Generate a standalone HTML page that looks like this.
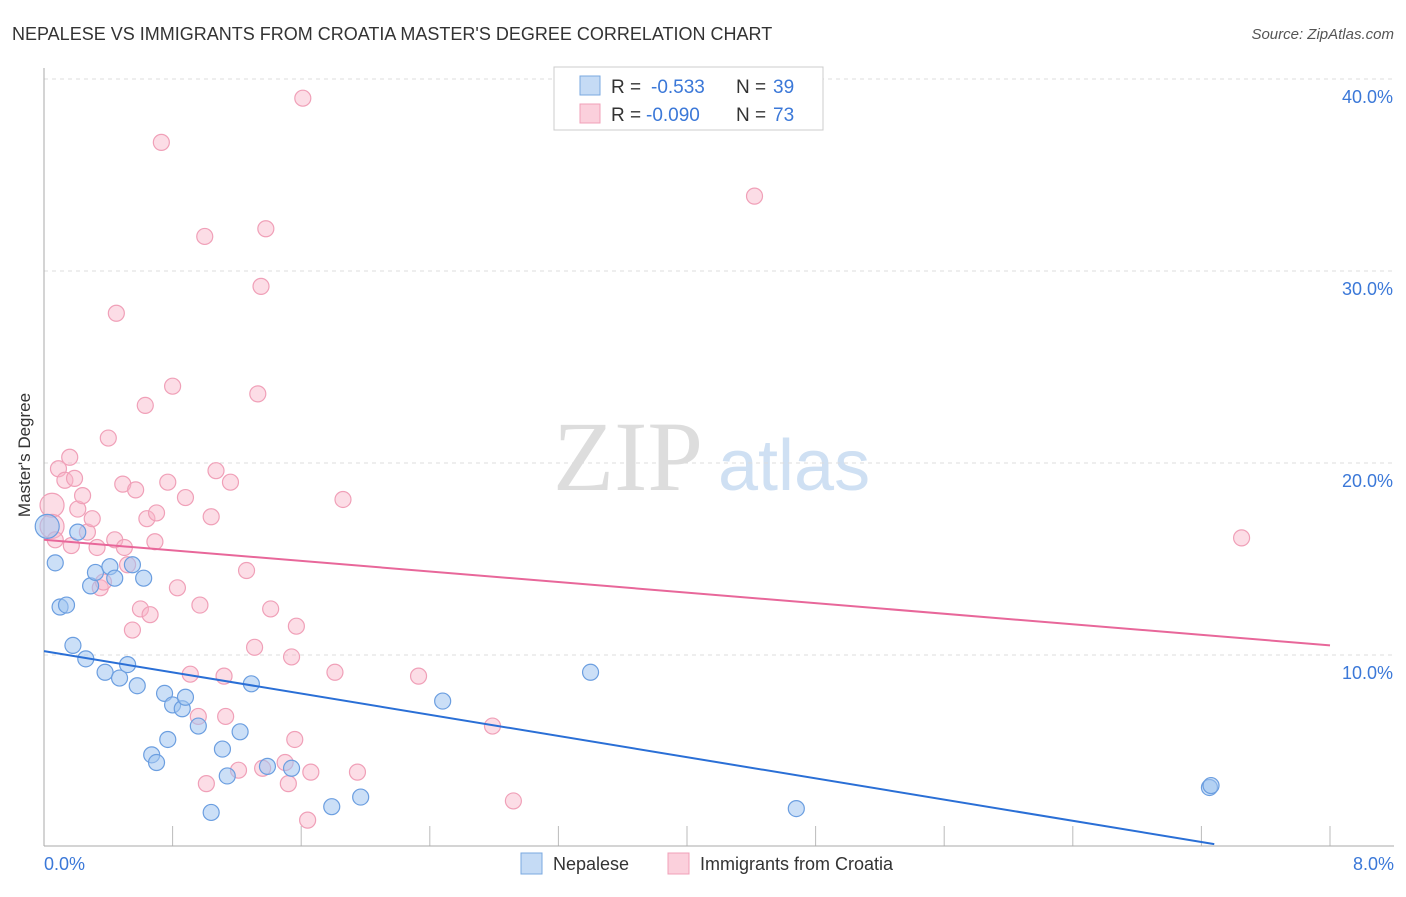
<!DOCTYPE html>
<html><head><meta charset="utf-8"><style>
body{margin:0;background:#fff;font-family:"Liberation Sans",sans-serif}
</style></head><body>
<svg width="1406" height="892" xmlns="http://www.w3.org/2000/svg">
<text x="12" y="40" font-size="18" fill="#333">NEPALESE VS IMMIGRANTS FROM CROATIA MASTER'S DEGREE CORRELATION CHART</text>
<text x="1394" y="39" font-size="15" fill="#555" text-anchor="end" font-style="italic">Source: ZipAtlas.com</text>
<text x="553" y="490" font-size="100" fill="#ddd" font-family="Liberation Serif">ZIP</text>
<text x="718" y="490" font-size="72" fill="#cfe0f3">atlas</text>
<g id="grid"></g>
<line x1="44" y1="68" x2="44" y2="846" stroke="#aaa"/>
<line x1="44" y1="846" x2="1394" y2="846" stroke="#aaa"/>
<text x="30" y="455" font-size="17" fill="#333" transform="rotate(-90 30 455)" text-anchor="middle">Master's Degree</text>
<text x="44" y="870" font-size="18" fill="#3b78d8">0.0%</text>
<text x="1394" y="870" font-size="18" fill="#3b78d8" text-anchor="end">8.0%</text>
<g id="pts"></g>
<g id="lines"></g>
<g>
<rect x="554" y="67" width="269" height="63" fill="#fff" stroke="#ccc"/>
<rect x="580" y="76" width="20" height="19" fill="#c5dbf5" stroke="#7aa8e0"/>
<rect x="580" y="104" width="20" height="19" fill="#fbd0dc" stroke="#f0a0b8"/>
<text x="611" y="93" font-size="19" fill="#333">R =</text>
<text x="651" y="93" font-size="19" fill="#3b78d8">-0.533</text>
<text x="736" y="93" font-size="19" fill="#333">N =</text>
<text x="773" y="93" font-size="19" fill="#3b78d8">39</text>
<text x="611" y="121" font-size="19" fill="#333">R =</text>
<text x="646" y="121" font-size="19" fill="#3b78d8">-0.090</text>
<text x="736" y="121" font-size="19" fill="#333">N =</text>
<text x="773" y="121" font-size="19" fill="#3b78d8">73</text>
</g>
<g>
<rect x="521" y="853" width="21" height="21" fill="#c5dbf5" stroke="#7aa8e0"/>
<text x="553" y="870" font-size="18" fill="#333">Nepalese</text>
<rect x="668" y="853" width="21" height="21" fill="#fbd0dc" stroke="#f0a0b8"/>
<text x="700" y="870" font-size="18" fill="#333">Immigrants from Croatia</text>
</g>
</svg>
<script>
const yTicks=[10,20,30,40];
const xTicks=[0.8,1.6,2.4,3.2,4.0,4.8,5.6,6.4,7.2,8.0];
const nepX=[0.02,0.07,0.1,0.14,0.18,0.21,0.26,0.29,0.32,0.38,0.41,0.44,0.47,0.52,0.55,0.58,0.62,0.67,0.7,0.75,0.77,0.8,0.86,0.88,0.96,1.04,1.11,1.14,1.22,1.29,1.39,1.54,1.79,1.97,2.48,3.40,4.68,7.25,7.26];
const nepY=[16.7,14.8,12.5,12.6,10.5,16.4,9.8,13.6,14.3,9.1,14.6,14.0,8.8,9.5,14.7,8.4,14.0,4.8,4.4,8.0,5.6,7.4,7.2,7.8,6.3,1.8,5.1,3.7,6.0,8.5,4.2,4.1,2.1,2.6,7.6,9.1,2.0,3.1,3.2];
const croX=[0.05,0.05,0.07,0.09,0.13,0.16,0.17,0.19,0.21,0.24,0.27,0.30,0.33,0.35,0.37,0.40,0.44,0.45,0.49,0.50,0.52,0.55,0.57,0.60,0.63,0.64,0.66,0.69,0.70,0.73,0.77,0.80,0.83,0.88,0.91,0.96,0.97,1.00,1.01,1.04,1.07,1.12,1.13,1.16,1.21,1.26,1.31,1.33,1.35,1.36,1.38,1.41,1.50,1.52,1.54,1.56,1.57,1.61,1.64,1.66,1.81,1.86,1.95,2.33,2.79,2.92,4.42,7.45];
const croY=[17.8,16.7,16.0,19.7,19.1,20.3,15.7,19.2,17.6,18.3,16.4,17.1,15.6,13.5,13.8,21.3,16.0,27.8,18.9,15.6,14.7,11.3,18.6,12.4,23.0,17.1,12.1,15.9,17.4,36.7,19.0,24.0,13.5,18.2,9.0,6.8,12.6,31.8,3.3,17.2,19.6,8.9,6.8,19.0,4.0,14.4,10.4,23.6,29.2,4.1,32.2,12.4,4.4,3.3,9.9,5.6,11.5,39.0,1.4,3.9,9.1,18.1,3.9,8.9,6.3,2.4,33.9,16.1];
const X=v=>44+v*160.75, Y=v=>847-v*19.2, NS='http://www.w3.org/2000/svg';
const g=document.getElementById('grid');
yTicks.forEach(t=>{const l=document.createElementNS(NS,'line');
l.setAttribute('x1',44);l.setAttribute('x2',1394);l.setAttribute('y1',Y(t));l.setAttribute('y2',Y(t));
l.setAttribute('stroke','#ddd');l.setAttribute('stroke-dasharray','4,4');

g.appendChild(l);
const tx=document.createElementNS(NS,'text');tx.setAttribute('x',1393);tx.setAttribute('y',Y(t)+24);
tx.setAttribute('text-anchor','end');tx.setAttribute('font-size','18');tx.setAttribute('fill','#3b78d8');
tx.textContent=t.toFixed(1)+'%';

g.appendChild(tx);});
xTicks.forEach(t=>{const l=document.createElementNS(NS,'line');
l.setAttribute('x1',X(t));l.setAttribute('x2',X(t));l.setAttribute('y1',826);l.setAttribute('y2',846);
l.setAttribute('stroke','#bbb');

g.appendChild(l);});
const p=document.getElementById('pts');
function dots(xs,ys,fill,stroke,name){xs.forEach((x,i)=>{const c=document.createElementNS(NS,'circle');
c.setAttribute('cx',X(x));c.setAttribute('cy',Y(ys[i]));c.setAttribute('r',(x<0.06?12:8));
c.setAttribute('fill',fill);c.setAttribute('stroke',stroke);c.setAttribute('stroke-width','1.2');

p.appendChild(c);});}
dots(croX,croY,'rgba(248,180,200,0.45)','#f0a0b8','croatia-point');
dots(nepX,nepY,'rgba(160,196,240,0.55)','#6b9ee0','nepalese-point');
const L=document.getElementById('lines');
function line(x1,y1,x2,y2,col,name){const l=document.createElementNS(NS,'line');
l.setAttribute('x1',X(x1));l.setAttribute('y1',Y(y1));l.setAttribute('x2',X(x2));l.setAttribute('y2',Y(y2));
l.setAttribute('stroke',col);l.setAttribute('stroke-width','2');

L.appendChild(l);}
line(0,10.2,7.28,0.15,'#2a6fd6','nepalese-trend-line');
line(0,16.0,8.0,10.5,'#e8679a','croatia-trend-line');
</script>
</body></html>
